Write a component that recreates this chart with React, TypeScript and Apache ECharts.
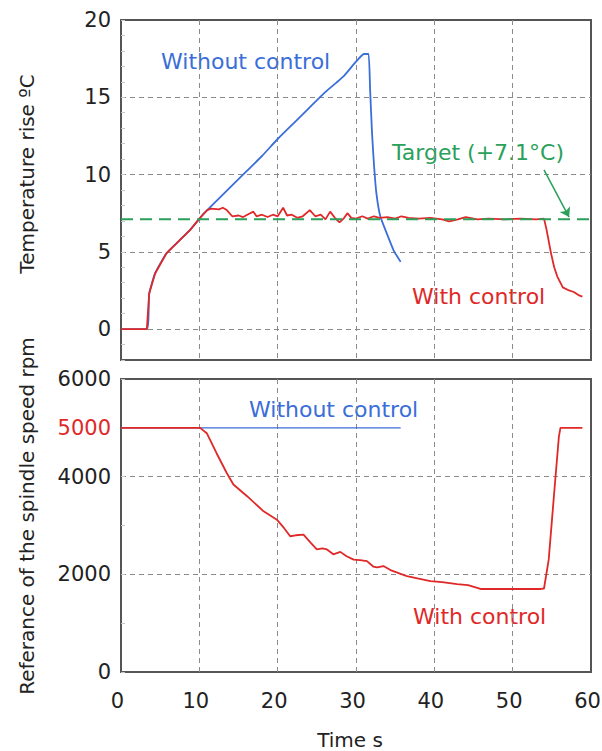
import React, { useEffect, useRef } from "react";
import * as echarts from "echarts";

// ---- data (time s, value) ----
const tempWithoutControl: [number, number][] = [
  [0, 0], [3.3, 0], [3.6, 2.3], [4.35, 3.6], [5.8, 4.9], [7.5, 5.75], [8.8, 6.4],
  [10.1, 7.2], [10.6, 7.5], [12, 8.2], [14, 9.2], [16, 10.2], [18, 11.2], [20, 12.3],
  [22, 13.3], [24, 14.3], [26, 15.3], [27.5, 15.95], [28.5, 16.4], [30, 17.3],
  [31, 17.8], [31.6, 17.8], [31.8, 15.5], [32.05, 12.65], [32.3, 10.6], [32.6, 8.8],
  [33.1, 7.3], [34, 6.1], [34.8, 5.1], [35.7, 4.35],
];

const tempWithControl: [number, number][] = [
  [0, 0], [3.3, 0], [3.6, 2.3], [4.35, 3.6], [5.8, 4.9], [7.5, 5.75], [8.8, 6.4],
  [10.1, 7.2], [11, 7.7], [11.5, 7.8], [12.5, 7.75], [13, 7.85], [13.5, 7.7],
  [14.2, 7.3], [15, 7.35], [15.6, 7.25], [16.3, 7.45], [16.9, 7.6], [17.3, 7.3],
  [18, 7.4], [18.7, 7.25], [19.4, 7.4], [20, 7.3], [20.7, 7.85], [21.2, 7.35],
  [21.8, 7.4], [22.5, 7.2], [23.2, 7.3], [24.1, 7.7], [24.8, 7.3], [25.5, 7.4],
  [26.1, 7.1], [26.7, 7.6], [27.3, 7.2], [27.9, 6.9], [28.5, 7.2], [28.9, 7.5],
  [29.4, 7.2], [30, 7.15], [30.8, 7.3], [31.5, 7.15], [32.3, 7.3], [33, 7.2],
  [34, 7.25], [35, 7.15], [35.8, 7.3], [36.7, 7.2], [38, 7.15], [39.5, 7.2],
  [41, 7.1], [41.9, 6.97], [43, 7.1], [44, 7.25], [45.5, 7.1], [47, 7.15],
  [49, 7.1], [51, 7.15], [53, 7.1], [54, 7.15], [54.3, 6.5], [54.9, 4.9],
  [55.3, 4.0], [55.7, 3.4], [56.4, 2.7], [57.2, 2.5], [57.8, 2.4], [58.4, 2.2],
  [58.9, 2.1],
];

const targetRise: [number, number][] = [[0, 7.1], [60, 7.1]];
const targetArrow: [number, number][] = [[54, 10.3], [57.2, 7.25]];

const speedWithoutControl: [number, number][] = [[0, 5000], [35.7, 5000]];

const speedWithControl: [number, number][] = [
  [0, 5000], [10.1, 5000], [10.95, 4890], [12.2, 4480], [13.5, 4075], [14.35, 3840],
  [16.1, 3600], [18.2, 3290], [19.9, 3120], [20.8, 2950], [21.6, 2780], [22.3, 2800],
  [23.3, 2815], [24.2, 2650], [25, 2510], [25.7, 2530], [26.3, 2510], [27.1, 2410],
  [28, 2460], [28.8, 2370], [29.7, 2300], [30.5, 2290], [31.4, 2270], [32.2, 2160],
  [32.7, 2140], [33.5, 2170], [34.5, 2080], [35.7, 2010], [36.5, 1965], [38, 1910],
  [39.5, 1860], [41, 1840], [42.9, 1800], [44.3, 1780], [45.9, 1700], [50, 1700],
  [53.6, 1700], [54, 1710], [54.6, 2300], [55.3, 3670], [55.9, 4820], [56.1, 5000],
  [58.9, 5000],
];

const BLUE = "#3a6ed8";
const RED = "#e02828";
const GREEN = "#2aa05a";
const FONT = "DejaVu Sans";

export default function App() {
  const ref = useRef<HTMLDivElement>(null);

  useEffect(() => {
    if (!ref.current) return;
    const chart = echarts.init(ref.current, undefined, { renderer: "svg" });

    const splitLine = {
      show: true,
      showMinLine: false,
      showMaxLine: false,
      lineStyle: { color: "#8a8a8a", type: [5, 4], width: 1 },
    };
    const tickLabel = { color: "#222", fontFamily: FONT, fontSize: 21 };
    const plain = (v: number) => String(v);

    const option: any = {
      animation: false,
      backgroundColor: "#fff",
      grid: [
        { left: 121, top: 20, width: 470, height: 340, show: true, borderColor: "#555", borderWidth: 2, backgroundColor: "transparent", containLabel: false, outerBoundsMode: "none" },
        { left: 121, top: 379, width: 470, height: 293, show: true, borderColor: "#555", borderWidth: 2, backgroundColor: "transparent", containLabel: false, outerBoundsMode: "none" },
      ],
      xAxis: [
        {
          type: "value", gridIndex: 0, min: 0, max: 60, interval: 10, position: "bottom",
          axisLine: { show: false }, axisTick: { show: false }, axisLabel: { show: false },
          splitLine,
        },
        {
          type: "value", gridIndex: 1, min: 0, max: 60, interval: 10, position: "bottom",
          axisLine: { show: false }, axisTick: { show: false },
          axisLabel: { ...tickLabel, margin: 18, padding: [0, 7, 0, 0], formatter: plain },
          splitLine,
        },
      ],
      yAxis: [
        {
          type: "value", gridIndex: 0, min: -2, max: 20, position: "left",
          axisLine: { show: false }, axisTick: { show: false },
          axisLabel: { ...tickLabel, margin: 10, formatter: (v: number) => (v < 0 ? "" : String(v)) },
          splitLine,
        },
        {
          type: "value", gridIndex: 0, min: -2, max: 20, interval: 1, position: "left", offset: 0,
          axisLine: { show: false },
          axisTick: { show: true, inside: true, length: 4, lineStyle: { color: "#c4c4c4" } },
          axisLabel: { show: false }, splitLine: { show: false },
        },
        {
          type: "value", gridIndex: 1, min: 0, max: 6000, interval: 2000, position: "left",
          axisLine: { show: false },
          axisTick: { show: true, inside: true, length: 4, lineStyle: { color: "#c4c4c4" } },
          minorTick: { show: true, splitNumber: 2, length: 4, lineStyle: { color: "#c4c4c4" } },
          axisLabel: { ...tickLabel, margin: 10, formatter: plain },
          splitLine,
        },
        {
          type: "value", gridIndex: 1, min: 0, max: 6000, interval: 5000, position: "left", offset: 0,
          axisLine: { show: false }, axisTick: { show: false }, splitLine: { show: false },
          axisLabel: { ...tickLabel, color: RED, margin: 10, formatter: (v: number) => (v === 5000 ? "5000" : "") },
        },
      ],
      series: [
        {
          name: "Without control", type: "line", xAxisIndex: 0, yAxisIndex: 0,
          data: tempWithoutControl, showSymbol: false, smooth: 0.15,
          lineStyle: { color: BLUE, width: 1.8 }, z: 3,
        },
        {
          name: "With control", type: "line", xAxisIndex: 0, yAxisIndex: 0,
          data: tempWithControl, showSymbol: false,
          lineStyle: { color: RED, width: 1.8 }, z: 4,
        },
        {
          name: "Target", type: "line", xAxisIndex: 0, yAxisIndex: 0,
          data: targetRise, showSymbol: false,
          lineStyle: { color: GREEN, width: 2, type: [12, 7] }, z: 5,
          markLine: {
            silent: true, symbol: ["none", "arrow"], symbolSize: 9,
            label: { show: false },
            lineStyle: { color: GREEN, width: 1.5, type: "solid" },
            data: [[{ coord: targetArrow[0] }, { coord: targetArrow[1] }]],
          },
        },
        {
          name: "Speed without control", type: "line", xAxisIndex: 1, yAxisIndex: 2,
          data: speedWithoutControl, showSymbol: false,
          lineStyle: { color: BLUE, width: 1.3 }, z: 3,
        },
        {
          name: "Speed with control", type: "line", xAxisIndex: 1, yAxisIndex: 2,
          data: speedWithControl, showSymbol: false,
          lineStyle: { color: RED, width: 1.8 }, z: 4,
        },
      ],
      graphic: [
        { type: "text", x: 27, y: 174, rotation: Math.PI / 2, style: { text: "Temperature rise \u00baC", fill: "#222", font: `20px '${FONT}'`, align: "center", verticalAlign: "middle" } },
        { type: "text", x: 27, y: 516, rotation: Math.PI / 2, style: { text: "Referance of the spindle speed rpm", fill: "#222", font: `20px '${FONT}'`, align: "center", verticalAlign: "middle" } },
        { type: "text", x: 350, y: 740, style: { text: "Time s", fill: "#222", font: `20px '${FONT}'`, align: "center", verticalAlign: "middle" } },
        { type: "text", x: 161, y: 61, style: { text: "Without control", fill: BLUE, font: `22px '${FONT}'`, align: "left", verticalAlign: "middle" } },
        { type: "text", x: 392, y: 152, style: { text: "Target (+7.1\u00b0C)", fill: GREEN, font: `22px '${FONT}'`, align: "left", verticalAlign: "middle" } },
        { type: "text", x: 412, y: 296, style: { text: "With control", fill: RED, font: `22px '${FONT}'`, align: "left", verticalAlign: "middle" } },
        { type: "text", x: 249, y: 409, style: { text: "Without control", fill: BLUE, font: `22px '${FONT}'`, align: "left", verticalAlign: "middle" } },
        { type: "text", x: 413, y: 616, style: { text: "With control", fill: RED, font: `22px '${FONT}'`, align: "left", verticalAlign: "middle" } },
      ],
    };

    chart.setOption(option);
    return () => chart.dispose();
  }, []);

  return (
    <div
      ref={ref}
      style={{ position: "absolute", left: 0, top: 0, width: 602, height: 751, background: "#fff" }}
    />
  );
}
